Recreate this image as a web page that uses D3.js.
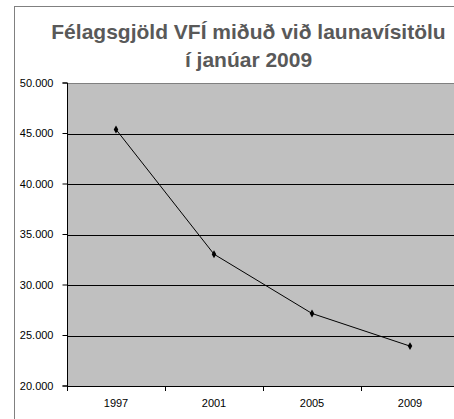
<!DOCTYPE html>
<html><head><meta charset="utf-8">
<script src="https://cdn.jsdelivr.net/npm/d3@7"></script>
<style>body{margin:0;background:#fff;overflow:hidden}svg{display:block}</style>
</head><body>
<script>
const categories = ["1997","2001","2005","2009"];
const values = [45400, 33050, 27180, 23950];
const yTicks = [20000,25000,30000,35000,40000,45000,50000];
const titleLines = ["Félagsgjöld VFÍ miðuð við launavísitölu","í janúar 2009"];

const W=454,H=419;
const svg=d3.select("body").append("svg").attr("width",W).attr("height",H);
svg.append("rect").attr("x",14.5).attr("y",6.5).attr("width",500).attr("height",500)
  .attr("fill","#fff").attr("stroke","#808080").attr("stroke-width",1);

const L=67,R=459,T=83,B=386;
const x=d3.scaleBand().domain(categories).range([L,R]);
const y=d3.scaleLinear().domain([20000,50000]).range([B,T]);

svg.append("rect").attr("x",L).attr("y",T).attr("width",R-L).attr("height",B-T).attr("fill","#C0C0C0");

svg.append("g").selectAll("line").data(yTicks.filter(d=>d>20000 && d<50000)).join("line")
  .attr("x1",L).attr("x2",R).attr("y1",d=>Math.round(y(d))+0.5).attr("y2",d=>Math.round(y(d))+0.5)
  .attr("stroke","#000").attr("stroke-width",1);
svg.append("line").attr("x1",L).attr("x2",R).attr("y1",T+0.5).attr("y2",T+0.5).attr("stroke","#808080");

const fmt=d=>d3.format(",")(d).replace(/,/g,".");
const yAxis=svg.append("g").attr("transform",`translate(${L+0.5},0)`)
  .call(d3.axisLeft(y).tickValues(yTicks).tickFormat(fmt).tickSize(5).tickPadding(9).offset(0));
yAxis.select(".domain").attr("stroke","#000");
yAxis.selectAll("text").attr("font-family","Liberation Sans, Arial, sans-serif").attr("font-size","11px").attr("fill","#000");

const xAxis=svg.append("g").attr("transform",`translate(0,${B+0.5})`)
  .call(d3.axisBottom(x).tickSize(0).tickPadding(13).offset(0));
xAxis.select(".domain").attr("stroke","#000");
xAxis.selectAll("text").attr("font-family","Liberation Sans, Arial, sans-serif").attr("font-size","11px").attr("fill","#000");
svg.append("g").selectAll("line").data(categories).join("line")
  .attr("x1",d=>Math.round(x(d))+0.5).attr("x2",d=>Math.round(x(d))+0.5)
  .attr("y1",B).attr("y2",B+5).attr("stroke","#000");

const cx=d=>x(d)+x.bandwidth()/2;
svg.append("path").datum(values).attr("fill","none").attr("stroke","#000").attr("stroke-width",1)
  .attr("d",d3.line().x((d,i)=>cx(categories[i])).y(d=>y(d)));
svg.append("g").selectAll("path").data(values).join("path")
  .attr("transform",(d,i)=>`translate(${cx(categories[i])},${y(d)})`)
  .attr("d",d3.symbol(d3.symbolDiamond,18)).attr("fill","#000");

svg.append("g").selectAll("text").data(titleLines).join("text")
  .attr("x",248.5).attr("y",(d,i)=>39+i*28).attr("text-anchor","middle")
  .attr("font-family","Liberation Sans, Arial, sans-serif").attr("font-weight","bold")
  .attr("font-size","21px").attr("fill","#595959").text(d=>d);
</script>
</body></html>
